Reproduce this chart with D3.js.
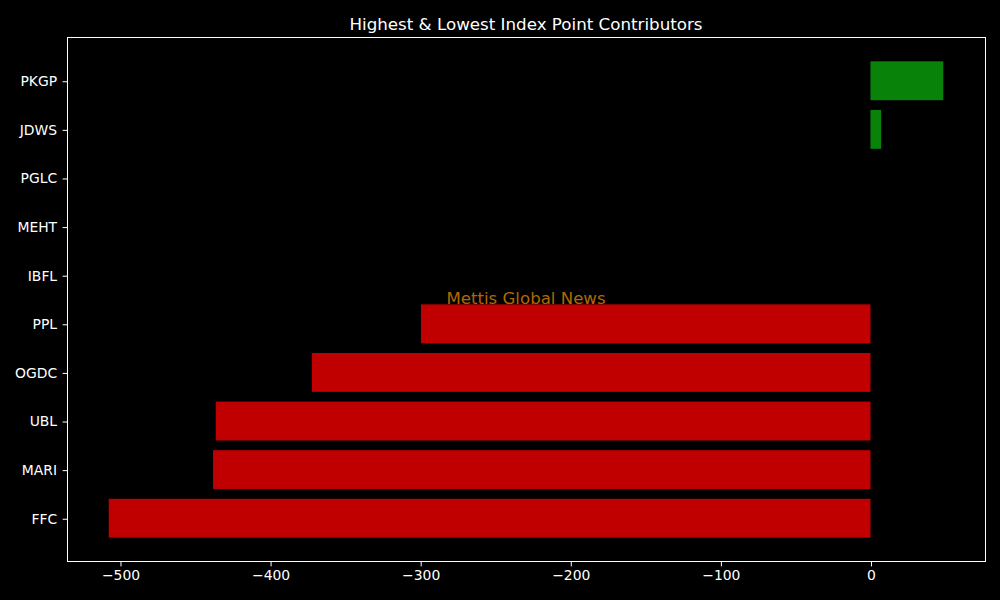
<!DOCTYPE html>
<html><head><meta charset="utf-8">
<script src="https://cdn.jsdelivr.net/npm/d3@7"></script>
<style>body{margin:0;background:#000}svg{display:block}text{font-family:"DejaVu Sans",sans-serif}</style>
</head><body>
<script>
const categories = ["FFC","MARI","UBL","OGDC","PPL","IBFL","MEHT","PGLC","JDWS","PKGP"];
const values = [-507.5,-438,-436.2,-372.2,-299.5,0,0,0,7.1,48.5];
const xTicks = [-500,-400,-300,-200,-100,0];
const title = "Highest & Lowest Index Point Contributors";
const watermark = "Mettis Global News";

const W=1000,H=600, L=67,R=985,T=37.5,B=561.5;
const svg=d3.select("body").append("svg").attr("width",W).attr("height",H).style("background","#000");
svg.append("rect").attr("width",W).attr("height",H).attr("fill","#000");

const vmin=d3.min(values), vmax=d3.max(values), span=vmax-vmin;
const x=d3.scaleLinear().domain([vmin-0.05*span, vmax+0.05*span]).range([L,R]);
const n=categories.length, bh=0.8;
const yspan=(n-1+bh);
const y=d3.scaleLinear().domain([-bh/2-0.05*yspan, n-1+bh/2+0.05*yspan]).range([B,T]);

// watermark
svg.append("text").attr("x",(L+R)/2).attr("y",(T+B)/2-1.5).attr("text-anchor","middle").attr("dominant-baseline","central")
  .attr("fill","rgb(178,104,0)").attr("font-size","16.6px").text(watermark);

svg.selectAll("rect.bar").data(values).enter().append("rect").attr("class","bar")
  .attr("x",d=>x(Math.min(0,d))).attr("width",d=>Math.abs(x(d)-x(0)))
  .attr("y",(d,i)=>y(i+bh/2)).attr("height",(d,i)=>y(i-bh/2)-y(i+bh/2))
  .attr("fill",d=>d>=0?"#088208":"#c00000");

// frame
svg.append("rect").attr("x",L+0.5).attr("y",T).attr("width",R-L).attr("height",B-T).attr("fill","none").attr("stroke","#fff").attr("stroke-width",1);

const xa=svg.append("g").attr("transform",`translate(0.5,${B})`)
  .call(d3.axisBottom(x).tickValues(xTicks).tickSize(4.9).tickPadding(4).tickFormat(d=>d<0?"\u2212"+Math.abs(d):d));
const ya=svg.append("g").attr("transform",`translate(${L+0.5},0.5)`)
  .call(d3.axisLeft(y).tickValues(d3.range(n)).tickSize(4.9).tickPadding(5.5).tickFormat(i=>categories[i]));
[xa,ya].forEach(a=>{a.select(".domain").remove();a.selectAll("line").attr("stroke","#fff").attr("stroke-width",1);
  a.selectAll("text").attr("fill","#fff").attr("font-size","13.9px").attr("font-family","DejaVu Sans");});

svg.append("text").attr("x",(L+R)/2).attr("y",T-8).attr("text-anchor","middle").attr("fill","#fff")
  .attr("font-size","16.7px").text(title);
</script>
</body></html>
